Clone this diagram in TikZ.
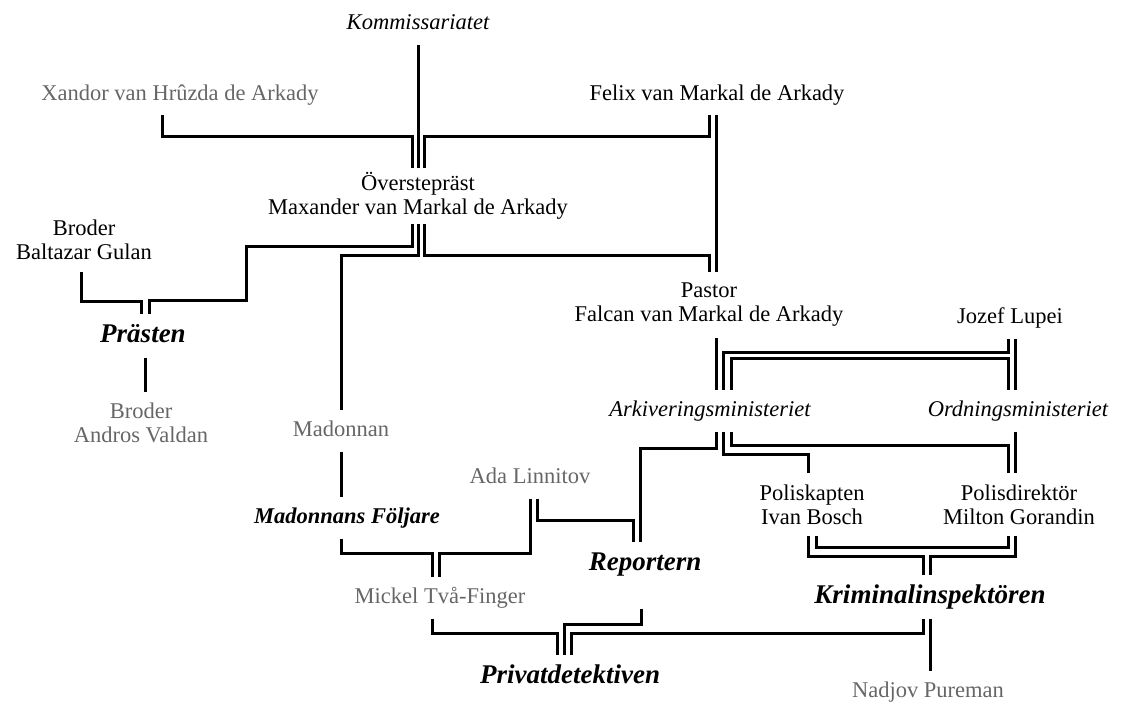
\documentclass[tikz,border=0pt]{standalone}
\usepackage{fontspec}
\setmainfont{Liberation Serif}
\usepackage{xcolor}
\definecolor{fadegray}{gray}{0.4}

\begin{document}
\begin{tikzpicture}[x=1pt, y=-1pt, line width=3pt,
    lbl/.style={font=\fontsize{22.5}{24}\selectfont, inner xsep=0pt, inner ysep=10pt, text height=15pt, text depth=4pt},
    pair/.style={font=\fontsize{22.5}{24}\selectfont, align=center, inner xsep=0pt, inner ysep=10pt},
    office/.style={lbl, font=\fontsize{22.5}{24}\selectfont\itshape},
    role/.style={font=\fontsize{27}{28}\selectfont\bfseries\itshape, inner xsep=0pt, inner ysep=9pt, text height=18pt, text depth=5pt},
    minor/.style={text=fadegray}]
    \useasboundingbox (0,0) rectangle (1131,706);

    \node[office] (komm) at (418, 24.5) {Kommissariatet};
    \node[lbl, minor] (xandor) at (180, 94.5) {Xandor van Hrûzda de Arkady};
    \node[lbl] (felix) at (717, 94.5) {Felix van Markal de Arkady};
    \node[pair, inner ysep=3pt] (over) at (418, 195.75) {Överstepräst\\Maxander van Markal de Arkady};
    \node[pair] (baltazar) at (84, 240.3) {Broder\\Baltazar Gulan};
    \node[role] (praesten) at (143, 335.5) {Prästen};
    \node[pair, minor] (andros) at (141, 423.3) {Broder\\Andros Valdan};
    \node[lbl, minor] (madonnan) at (341, 430.5) {Madonnan};
    \node[pair] (pastor) at (709, 305) {Pastor\\Falcan van Markal de Arkady};
    \node[lbl] (jozef) at (1010, 317.5) {Jozef Lupei};
    \node[office] (arkiv) at (710, 410.5) {Arkiveringsministeriet};
    \node[office] (ord) at (1018, 410.5) {Ordningsministeriet};
    \node[lbl, minor] (ada) at (530, 477.5) {Ada Linnitov};
    \node[pair] (polisk) at (812, 504.3) {Poliskapten\\Ivan Bosch};
    \node[pair] (polisd) at (1019, 504.3) {Polisdirektör\\Milton Gorandin};
    \node[lbl, font=\fontsize{22.5}{24}\selectfont\bfseries\itshape] (foljare) at (347, 517.5) {Madonnans Följare};
    \node[role] (reportern) at (645, 563.5) {Reportern};
    \node[lbl, minor] (mickel) at (440, 597.5) {Mickel Två-Finger};
    \node[role] (kriminal) at (930, 596.5) {Kriminalinspektören};
    \node[role] (privat) at (570, 676.5) {Privatdetektiven};
    \node[lbl, minor] (nadjov) at (928, 691.5) {Nadjov Pureman};

    % upper part
    \draw (komm) -- (over);
    \draw ([xshift=-18pt]xandor.south) -- ++(0,21) -| ([xshift=-6pt]over.north);
    \draw ([xshift=-8pt]felix.south) -- ++(0,21) -| ([xshift=6pt]over.north);
    \draw ([xshift=-1pt]felix.south) -- ([xshift=7pt]pastor.north);
    \draw ([xshift=-6pt]over.south) -- ++(0,23) -- ++(-166,0) -- ++(0,54) -| ([xshift=6pt]praesten.north);
    \draw ([xshift=-3pt]baltazar.south) -- ++(0,30) -| ([xshift=-2pt]praesten.north);
    \draw ([xshift=2pt]praesten.south) -- ([xshift=4pt]andros.north);
    \draw (over.south) -- ++(0,32) -| (madonnan.north);
    \draw ([xshift=6pt]over.south) -- ++(0,32) -| (pastor.north);

    % middle part
    \draw ([xshift=7pt]pastor.south) -- ([xshift=6pt]arkiv.north);
    \draw ([xshift=-2pt]jozef.south) -- ++(0,14) -| ([xshift=13.5pt]arkiv.north);
    \draw ([xshift=21pt]arkiv.north) -- ++(0,-31) -| ([xshift=-10pt]ord.north);
    \draw ([xshift=5pt]jozef.south) -- ([xshift=-3pt]ord.north);
    \draw ([xshift=6pt]arkiv.south) -- ++(0,17) -| ([xshift=-5pt]reportern.north);
    \draw ([xshift=13.5pt]arkiv.south) -- ++(0,23) -| ([xshift=-4pt]polisk.north);
    \draw ([xshift=21pt]arkiv.south) -- ++(0,14) -| ([xshift=-11pt]polisd.north);
    \draw ([xshift=-3pt]ord.south) -- ([xshift=-4pt]polisd.north);

    % lower part
    \draw (madonnan.south) -- ([xshift=-6pt]foljare.north);
    \draw ([xshift=-6pt]foljare.south) -- ++(0,15) -| ([xshift=-8pt]mickel.north);
    \draw (ada.south) -- ++(0,55) -| ([xshift=-1pt]mickel.north);
    \draw ([xshift=7pt]ada.south) -- ++(0,22) -| ([xshift=-12pt]reportern.north);
    \draw ([xshift=-4pt]polisk.south) -- ++(0,21) -| ([xshift=-7pt]kriminal.north);
    \draw ([xshift=4pt]polisk.south) -- ++(0,12) -| ([xshift=-11pt]polisd.south);
    \draw ([xshift=-4pt]polisd.south) -- ++(0,21) -| (kriminal.north);
    \draw ([xshift=-4pt,yshift=-23pt]reportern.south) -- ++(0,16) -| ([xshift=-6pt]privat.north);
    \draw ([xshift=-8pt]mickel.south) -- ++(0,15) -| ([xshift=-13pt]privat.north);
    \draw ([xshift=-7pt]kriminal.south) -- ++(0,15) -| ([xshift=1pt]privat.north);
    \draw (kriminal.south) -- ([xshift=2pt]nadjov.north);
\end{tikzpicture}
\end{document}
